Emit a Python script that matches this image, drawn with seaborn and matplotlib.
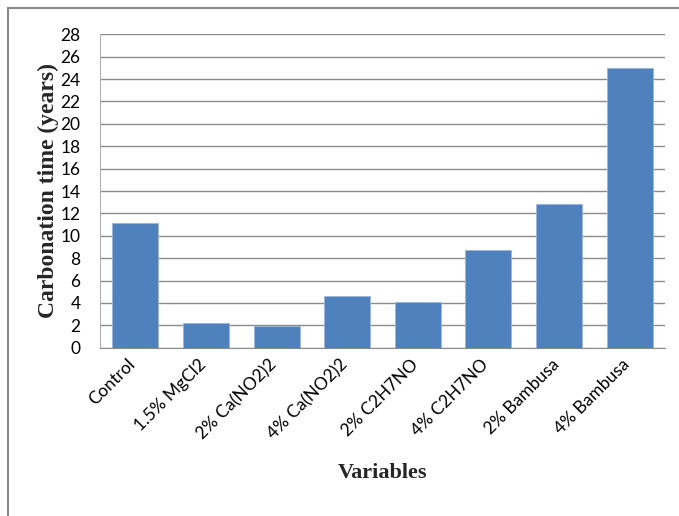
import pandas as pd
import matplotlib.pyplot as plt
import seaborn as sns
from matplotlib.lines import Line2D
from matplotlib.transforms import ScaledTranslation

# data
variables = ['Control', '1.5% MgCl2', '2% Ca(NO2)2', '4% Ca(NO2)2',
             '2% C2H7NO', '4% C2H7NO', '2% Bambusa', '4% Bambusa']
carb_time = [11.1, 2.2, 1.95, 4.65, 4.1, 8.7, 12.8, 25.0]
y_ticks = list(range(0, 29, 2))

df = pd.DataFrame({'Variables': variables, 'Carbonation time': carb_time})

sns.set_style('white')
plt.rcParams['font.family'] = ['Lato', 'DejaVu Sans']

fig = plt.figure(figsize=(6.79, 5.16), dpi=100)
ax = fig.add_axes([100 / 679, 1 - 347.7 / 516, 565 / 679, 313.4 / 516])

sns.barplot(data=df, x='Variables', y='Carbonation time', color='#4F81BD',
            saturation=1, width=0.65, edgecolor='#9AB5DA', linewidth=0.6,
            zorder=3, ax=ax)

ax.set_ylim(0, 28)
ax.set_yticks(y_ticks)
ax.set_xlim(-0.5, 7.5)
ax.yaxis.grid(True, color='#8C8C8C', linewidth=1.0, zorder=0)
ax.set_axisbelow(True)
for s in ['top', 'right']:
    ax.spines[s].set_visible(False)
ax.spines['left'].set_color('#B0B0B0')
ax.spines['bottom'].set_color('#8C8C8C')
ax.tick_params(axis='both', length=0, labelsize=12.5, colors='black')
ax.tick_params(axis='y', pad=14)
ax.tick_params(axis='x', pad=6)
shift = ScaledTranslation(-8 / 100, 0, fig.dpi_scale_trans)
for lab in ax.get_xticklabels():
    lab.set_rotation(45)
    lab.set_ha('right')
    lab.set_rotation_mode('anchor')
    lab.set_transform(lab.get_transform() + shift)

ax.set_xlabel('Variables', fontfamily='Liberation Serif', fontweight='bold',
              fontsize=16, labelpad=15)
ax.set_ylabel('Carbonation time (years)', fontfamily='Liberation Serif',
              fontweight='bold', fontsize=17, labelpad=1)

# outer frame (top and left)
fig.add_artist(Line2D([8 / 679, 1], [1 - 8 / 516, 1 - 8 / 516],
                      color='#888888', linewidth=1.5, transform=fig.transFigure))
fig.add_artist(Line2D([8 / 679, 8 / 679], [0, 1 - 8 / 516],
                      color='#888888', linewidth=1.5, transform=fig.transFigure))

fig.savefig('out.png', dpi=100)
